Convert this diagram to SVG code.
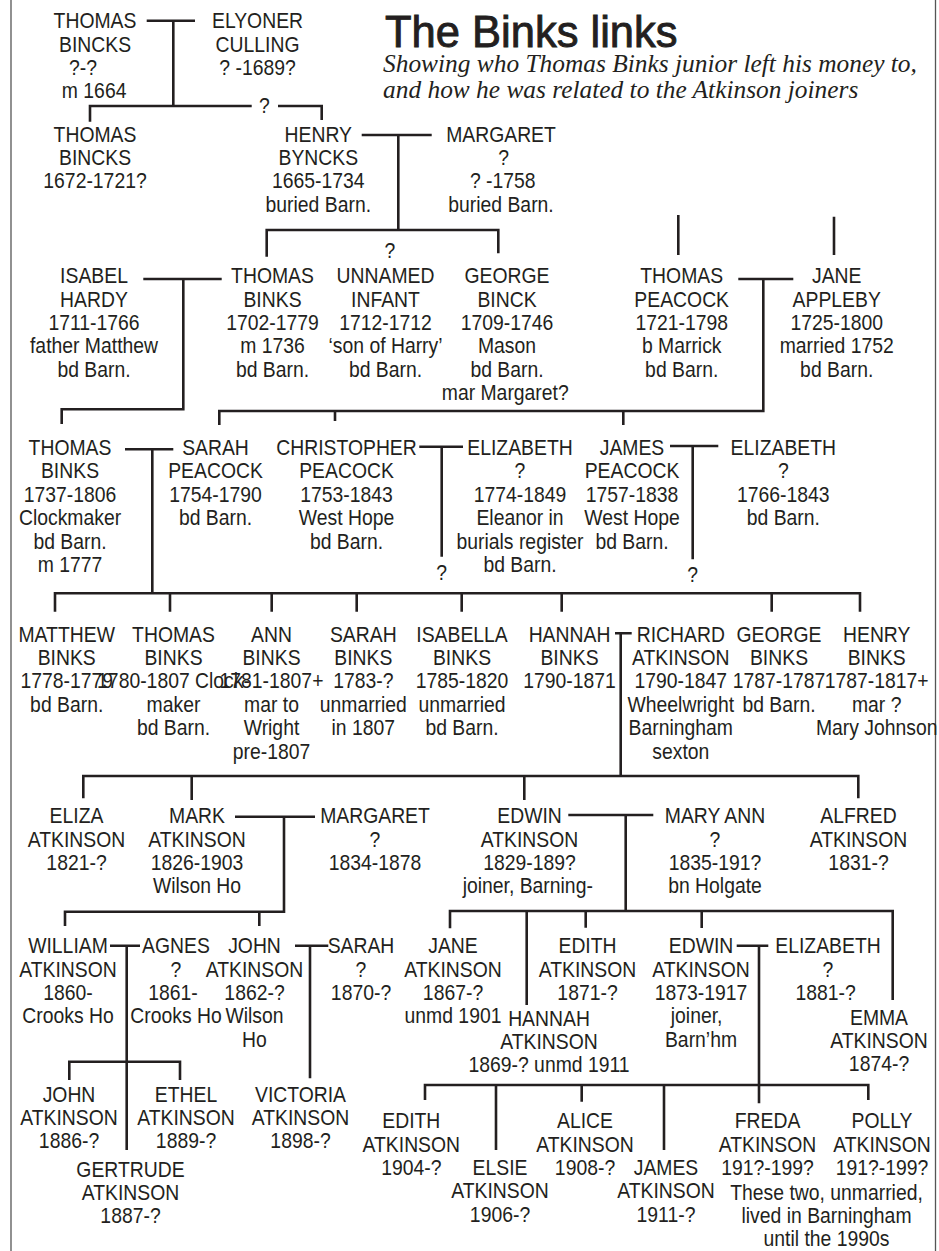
<svg xmlns="http://www.w3.org/2000/svg" width="939" height="1251" viewBox="0 0 939 1251">
<style>
.t{font-family:"Liberation Sans",Arial,sans-serif;font-size:22px;fill:#231f20;text-anchor:middle}
.c{fill:none;stroke:#231f20;stroke-width:2.6;stroke-linecap:butt;stroke-linejoin:miter}
.b{stroke:#555;stroke-width:1.3}
.title{font-family:"Liberation Sans",Arial,sans-serif;font-size:43.5px;fill:#231f20;stroke:#231f20;stroke-width:0.9}
.sub{font-family:"Liberation Serif","Times New Roman",serif;font-style:italic;font-size:25.4px;fill:#231f20}
</style>
<rect width="939" height="1251" fill="#fff"/>
<g id="frame"><line class="b" x1="11" y1="0" x2="11" y2="1251"/><line class="b" x1="935.5" y1="0" x2="935.5" y2="1251"/></g>
<g id="heading"><text class="title" x="385" y="46.7">The Binks links</text>
<text class="sub" x="383" y="72">Showing who Thomas Binks junior left his money to,</text>
<text class="sub" x="383" y="97.5">and how he was related to the Atkinson joiners</text></g>
<g id="connectors">
<path class="c" d="M146.7 20.7H195M173.3 20.7V106"/>
<path class="c" d="M90 121.7V106H251.7M278 106H321.7V120"/>
<path class="c" d="M361.7 135H431.7M398.3 135V230"/>
<path class="c" d="M266.7 256.7V230H498.3V253.3"/>
<path class="c" d="M143.3 279H221.7M183.3 279V409.3H61.7V424"/>
<path class="c" d="M678.3 215V255M834 216.7V255"/>
<path class="c" d="M738.3 279H793.3M763.3 279V411H219.3V425M335 411V421M623.3 411V425"/>
<path class="c" d="M125 449.3H173.3M152.3 449.3V593.3"/>
<path class="c" d="M55 611.7V593.3H860V611.7M170 593.3V611.7M271.7 593.3V611.7M356.7 593.3V611.7M461.7 593.3V611.7M561.7 593.3V611.7M771.7 593.3V611.7"/>
<path class="c" d="M419.3 446.7H463M441.7 446.7V556.7"/>
<path class="c" d="M670 446H718.3M692.7 446V559.3"/>
<path class="c" d="M615 633.3H631.7M620.7 633.3V776"/>
<path class="c" d="M83.3 798.3V776H858.3V798.3M191.7 776V800M524.3 776V800"/>
<path class="c" d="M235 816.7H315M284 816.7V911.7H65V926M259.3 911.7V926"/>
<path class="c" d="M110 945.7H140M126.7 945.7V1150M69.3 1080V1061.7H180V1080"/>
<path class="c" d="M295 945.7H328.3M310 945.7V1078.3"/>
<path class="c" d="M568.3 815H653.3M625.7 815V911M450 928.3V911H892.7V1000M526.7 911V1005M585.7 911V927.7M701.7 911V928"/>
<path class="c" d="M736.7 945.7H768.3M759 945.7V1103.3M425 1100V1085H868.3V1100M496 1085V1150M581.7 1085V1101.7M664 1085V1150"/>
<g transform="translate(264.5 113) scale(0.88 1)"><text class="t">?</text></g>
<g transform="translate(390 258) scale(0.88 1)"><text class="t">?</text></g>
<g transform="translate(441.7 580) scale(0.88 1)"><text class="t">?</text></g>
<g transform="translate(692.7 581.7) scale(0.88 1)"><text class="t">?</text></g>
</g>
<g id="n1" transform="translate(95 28.3) scale(0.88 1)"><text class="t"><tspan x="0" y="0">THOMAS</tspan><tspan x="0" y="23.4">BINCKS</tspan><tspan x="-13.6" y="46.8">?-?</tspan><tspan x="-1" y="70.2">m 1664</tspan></text></g>
<g id="n2" transform="translate(257.5 28.3) scale(0.88 1)"><text class="t"><tspan x="0" y="0">ELYONER</tspan><tspan x="0" y="23.4">CULLING</tspan><tspan x="0" y="46.8">? -1689?</tspan></text></g>
<g id="n3" transform="translate(95 141.7) scale(0.88 1)"><text class="t"><tspan x="0" y="0">THOMAS</tspan><tspan x="0" y="23.4">BINCKS</tspan><tspan x="0" y="46.8">1672-1721?</tspan></text></g>
<g id="n4" transform="translate(318.3 141.7) scale(0.88 1)"><text class="t"><tspan x="0" y="0">HENRY</tspan><tspan x="0" y="23.4">BYNCKS</tspan><tspan x="0" y="46.8">1665-1734</tspan><tspan x="0" y="70.2">buried Barn.</tspan></text></g>
<g id="n5" transform="translate(501 141.7) scale(0.88 1)"><text class="t"><tspan x="0" y="0">MARGARET</tspan><tspan x="3" y="23.4">?</tspan><tspan x="2" y="46.8">? -1758</tspan><tspan x="0" y="70.2">buried Barn.</tspan></text></g>
<g id="n6" transform="translate(94 283.3) scale(0.88 1)"><text class="t"><tspan x="0" y="0">ISABEL</tspan><tspan x="0" y="23.4">HARDY</tspan><tspan x="0" y="46.8">1711-1766</tspan><tspan x="0" y="70.2">father Matthew</tspan><tspan x="0" y="93.6">bd Barn.</tspan></text></g>
<g id="n7" transform="translate(272.5 283.3) scale(0.88 1)"><text class="t"><tspan x="0" y="0">THOMAS</tspan><tspan x="0" y="23.4">BINKS</tspan><tspan x="0" y="46.8">1702-1779</tspan><tspan x="0" y="70.2">m 1736</tspan><tspan x="0" y="93.6">bd Barn.</tspan></text></g>
<g id="n8" transform="translate(385.5 283.3) scale(0.88 1)"><text class="t"><tspan x="0" y="0">UNNAMED</tspan><tspan x="0" y="23.4">INFANT</tspan><tspan x="0" y="46.8">1712-1712</tspan><tspan x="0" y="70.2">‘son of Harry’</tspan><tspan x="0" y="93.6">bd Barn.</tspan></text></g>
<g id="n9" transform="translate(507 283.3) scale(0.88 1)"><text class="t"><tspan x="0" y="0">GEORGE</tspan><tspan x="0" y="23.4">BINCK</tspan><tspan x="0" y="46.8">1709-1746</tspan><tspan x="0" y="70.2">Mason</tspan><tspan x="0" y="93.6">bd Barn.</tspan><tspan x="-2" y="117">mar Margaret?</tspan></text></g>
<g id="n10" transform="translate(681.7 283.3) scale(0.88 1)"><text class="t"><tspan x="0" y="0">THOMAS</tspan><tspan x="0" y="23.4">PEACOCK</tspan><tspan x="0" y="46.8">1721-1798</tspan><tspan x="0" y="70.2">b Marrick</tspan><tspan x="0" y="93.6">bd Barn.</tspan></text></g>
<g id="n11" transform="translate(836.7 283.3) scale(0.88 1)"><text class="t"><tspan x="0" y="0">JANE</tspan><tspan x="0" y="23.4">APPLEBY</tspan><tspan x="0" y="46.8">1725-1800</tspan><tspan x="0" y="70.2">married 1752</tspan><tspan x="0" y="93.6">bd Barn.</tspan></text></g>
<g id="n12" transform="translate(70 455) scale(0.88 1)"><text class="t"><tspan x="0" y="0">THOMAS</tspan><tspan x="0" y="23.4">BINKS</tspan><tspan x="0" y="46.8">1737-1806</tspan><tspan x="0" y="70.2">Clockmaker</tspan><tspan x="0" y="93.6">bd Barn.</tspan><tspan x="0" y="117">m 1777</tspan></text></g>
<g id="n13" transform="translate(215.5 455) scale(0.88 1)"><text class="t"><tspan x="0" y="0">SARAH</tspan><tspan x="0" y="23.4">PEACOCK</tspan><tspan x="0" y="46.8">1754-1790</tspan><tspan x="0" y="70.2">bd Barn.</tspan></text></g>
<g id="n14" transform="translate(346.5 455) scale(0.88 1)"><text class="t"><tspan x="0" y="0">CHRISTOPHER</tspan><tspan x="0" y="23.4">PEACOCK</tspan><tspan x="0" y="46.8">1753-1843</tspan><tspan x="0" y="70.2">West Hope</tspan><tspan x="0" y="93.6">bd Barn.</tspan></text></g>
<g id="n15" transform="translate(520 455) scale(0.88 1)"><text class="t"><tspan x="0" y="0">ELIZABETH</tspan><tspan x="0" y="23.4">?</tspan><tspan x="0" y="46.8">1774-1849</tspan><tspan x="0" y="70.2">Eleanor in</tspan><tspan x="0" y="93.6">burials register</tspan><tspan x="0" y="117">bd Barn.</tspan></text></g>
<g id="n16" transform="translate(632 455) scale(0.88 1)"><text class="t"><tspan x="0" y="0">JAMES</tspan><tspan x="0" y="23.4">PEACOCK</tspan><tspan x="0" y="46.8">1757-1838</tspan><tspan x="0" y="70.2">West Hope</tspan><tspan x="0" y="93.6">bd Barn.</tspan></text></g>
<g id="n17" transform="translate(783.3 455) scale(0.88 1)"><text class="t"><tspan x="0" y="0">ELIZABETH</tspan><tspan x="0" y="23.4">?</tspan><tspan x="0" y="46.8">1766-1843</tspan><tspan x="0" y="70.2">bd Barn.</tspan></text></g>
<g id="n18" transform="translate(66.7 641.7) scale(0.88 1)"><text class="t"><tspan x="0" y="0">MATTHEW</tspan><tspan x="0" y="23.4">BINKS</tspan><tspan x="0" y="46.8">1778-1779</tspan><tspan x="0" y="70.2">bd Barn.</tspan></text></g>
<g id="n19" transform="translate(173.5 641.7) scale(0.88 1)"><text class="t"><tspan x="0" y="0">THOMAS</tspan><tspan x="0" y="23.4">BINKS</tspan><tspan x="0" y="46.8">1780-1807 Clock-</tspan><tspan x="0" y="70.2">maker</tspan><tspan x="0" y="93.6">bd Barn.</tspan></text></g>
<g id="n20" transform="translate(271.5 641.7) scale(0.88 1)"><text class="t"><tspan x="0" y="0">ANN</tspan><tspan x="0" y="23.4">BINKS</tspan><tspan x="0" y="46.8">1781-1807+</tspan><tspan x="0" y="70.2">mar to</tspan><tspan x="0" y="93.6">Wright</tspan><tspan x="0" y="117">pre-1807</tspan></text></g>
<g id="n21" transform="translate(363.3 641.7) scale(0.88 1)"><text class="t"><tspan x="0" y="0">SARAH</tspan><tspan x="0" y="23.4">BINKS</tspan><tspan x="0" y="46.8">1783-?</tspan><tspan x="0" y="70.2">unmarried</tspan><tspan x="0" y="93.6">in 1807</tspan></text></g>
<g id="n22" transform="translate(462 641.7) scale(0.88 1)"><text class="t"><tspan x="0" y="0">ISABELLA</tspan><tspan x="0" y="23.4">BINKS</tspan><tspan x="0" y="46.8">1785-1820</tspan><tspan x="0" y="70.2">unmarried</tspan><tspan x="0" y="93.6">bd Barn.</tspan></text></g>
<g id="n23" transform="translate(569.5 641.7) scale(0.88 1)"><text class="t"><tspan x="0" y="0">HANNAH</tspan><tspan x="0" y="23.4">BINKS</tspan><tspan x="0" y="46.8">1790-1871</tspan></text></g>
<g id="n24" transform="translate(680.8 641.7) scale(0.88 1)"><text class="t"><tspan x="0" y="0">RICHARD</tspan><tspan x="0" y="23.4">ATKINSON</tspan><tspan x="0" y="46.8">1790-1847</tspan><tspan x="0" y="70.2">Wheelwright</tspan><tspan x="0" y="93.6">Barningham</tspan><tspan x="0" y="117">sexton</tspan></text></g>
<g id="n25" transform="translate(779 641.7) scale(0.88 1)"><text class="t"><tspan x="0" y="0">GEORGE</tspan><tspan x="0" y="23.4">BINKS</tspan><tspan x="0" y="46.8">1787-1787</tspan><tspan x="0" y="70.2">bd Barn.</tspan></text></g>
<g id="n26" transform="translate(876.7 641.7) scale(0.88 1)"><text class="t"><tspan x="0" y="0">HENRY</tspan><tspan x="0" y="23.4">BINKS</tspan><tspan x="0" y="46.8">1787-1817+</tspan><tspan x="0" y="70.2">mar ?</tspan><tspan x="0" y="93.6">Mary Johnson</tspan></text></g>
<g id="n27" transform="translate(76.5 823.3) scale(0.88 1)"><text class="t"><tspan x="0" y="0">ELIZA</tspan><tspan x="0" y="23.4">ATKINSON</tspan><tspan x="0" y="46.8">1821-?</tspan></text></g>
<g id="n28" transform="translate(197 823.3) scale(0.88 1)"><text class="t"><tspan x="0" y="0">MARK</tspan><tspan x="0" y="23.4">ATKINSON</tspan><tspan x="0" y="46.8">1826-1903</tspan><tspan x="0" y="70.2">Wilson Ho</tspan></text></g>
<g id="n29" transform="translate(375 823.3) scale(0.88 1)"><text class="t"><tspan x="0" y="0">MARGARET</tspan><tspan x="0" y="23.4">?</tspan><tspan x="0" y="46.8">1834-1878</tspan></text></g>
<g id="n30" transform="translate(529.5 823.3) scale(0.88 1)"><text class="t"><tspan x="0" y="0">EDWIN</tspan><tspan x="0" y="23.4">ATKINSON</tspan><tspan x="0" y="46.8">1829-189?</tspan><tspan x="-2" y="70.2">joiner, Barning-</tspan></text></g>
<g id="n31" transform="translate(715 823.3) scale(0.88 1)"><text class="t"><tspan x="0" y="0">MARY ANN</tspan><tspan x="0" y="23.4">?</tspan><tspan x="0" y="46.8">1835-191?</tspan><tspan x="0" y="70.2">bn Holgate</tspan></text></g>
<g id="n32" transform="translate(858.5 823.3) scale(0.88 1)"><text class="t"><tspan x="0" y="0">ALFRED</tspan><tspan x="0" y="23.4">ATKINSON</tspan><tspan x="0" y="46.8">1831-?</tspan></text></g>
<g id="n33" transform="translate(68 953.3) scale(0.88 1)"><text class="t"><tspan x="0" y="0">WILLIAM</tspan><tspan x="0" y="23.4">ATKINSON</tspan><tspan x="0" y="46.8">1860-</tspan><tspan x="0" y="70.2">Crooks Ho</tspan></text></g>
<g id="n34" transform="translate(176 953.3) scale(0.88 1)"><text class="t"><tspan x="0" y="0">AGNES</tspan><tspan x="0" y="23.4">?</tspan><tspan x="-3.4" y="46.8">1861-</tspan><tspan x="0" y="70.2">Crooks Ho</tspan></text></g>
<g id="n35" transform="translate(254.5 953.3) scale(0.88 1)"><text class="t"><tspan x="0" y="0">JOHN</tspan><tspan x="0" y="23.4">ATKINSON</tspan><tspan x="0" y="46.8">1862-?</tspan><tspan x="0" y="70.2">Wilson</tspan><tspan x="0" y="93.6">Ho</tspan></text></g>
<g id="n36" transform="translate(361 953.3) scale(0.88 1)"><text class="t"><tspan x="0" y="0">SARAH</tspan><tspan x="0" y="23.4">?</tspan><tspan x="0" y="46.8">1870-?</tspan></text></g>
<g id="n37" transform="translate(453 953.3) scale(0.88 1)"><text class="t"><tspan x="0" y="0">JANE</tspan><tspan x="0" y="23.4">ATKINSON</tspan><tspan x="0" y="46.8">1867-?</tspan><tspan x="0" y="70.2">unmd 1901</tspan></text></g>
<g id="n38" transform="translate(587.5 953.3) scale(0.88 1)"><text class="t"><tspan x="0" y="0">EDITH</tspan><tspan x="0" y="23.4">ATKINSON</tspan><tspan x="0" y="46.8">1871-?</tspan></text></g>
<g id="n39" transform="translate(701 953.3) scale(0.88 1)"><text class="t"><tspan x="0" y="0">EDWIN</tspan><tspan x="0" y="23.4">ATKINSON</tspan><tspan x="0" y="46.8">1873-1917</tspan><tspan x="-5" y="70.2">joiner,</tspan><tspan x="0" y="93.6">Barn’hm</tspan></text></g>
<g id="n40" transform="translate(828 953.3) scale(0.88 1)"><text class="t"><tspan x="0" y="0">ELIZABETH</tspan><tspan x="0" y="23.4">?</tspan><tspan x="-2.8" y="46.8">1881-?</tspan></text></g>
<g id="n41" transform="translate(879 1024.5) scale(0.88 1)"><text class="t"><tspan x="0" y="0">EMMA</tspan><tspan x="0" y="23.4">ATKINSON</tspan><tspan x="0" y="46.8">1874-?</tspan></text></g>
<g id="n42" transform="translate(549 1025.5) scale(0.88 1)"><text class="t"><tspan x="0" y="0">HANNAH</tspan><tspan x="0" y="23.4">ATKINSON</tspan><tspan x="0" y="46.8">1869-? unmd 1911</tspan></text></g>
<g id="n43" transform="translate(69 1101.7) scale(0.88 1)"><text class="t"><tspan x="0" y="0">JOHN</tspan><tspan x="0" y="23.4">ATKINSON</tspan><tspan x="0" y="46.8">1886-?</tspan></text></g>
<g id="n44" transform="translate(186 1101.7) scale(0.88 1)"><text class="t"><tspan x="0" y="0">ETHEL</tspan><tspan x="0" y="23.4">ATKINSON</tspan><tspan x="0" y="46.8">1889-?</tspan></text></g>
<g id="n45" transform="translate(130.5 1176.7) scale(0.88 1)"><text class="t"><tspan x="0" y="0">GERTRUDE</tspan><tspan x="0" y="23.4">ATKINSON</tspan><tspan x="0" y="46.8">1887-?</tspan></text></g>
<g id="n46" transform="translate(300.5 1101.7) scale(0.88 1)"><text class="t"><tspan x="0" y="0">VICTORIA</tspan><tspan x="0" y="23.4">ATKINSON</tspan><tspan x="0" y="46.8">1898-?</tspan></text></g>
<g id="n47" transform="translate(411.3 1128.3) scale(0.88 1)"><text class="t"><tspan x="0" y="0">EDITH</tspan><tspan x="0" y="23.4">ATKINSON</tspan><tspan x="0" y="46.8">1904-?</tspan></text></g>
<g id="n48" transform="translate(500 1175) scale(0.88 1)"><text class="t"><tspan x="0" y="0">ELSIE</tspan><tspan x="0" y="23.4">ATKINSON</tspan><tspan x="0" y="46.8">1906-?</tspan></text></g>
<g id="n49" transform="translate(585 1128.3) scale(0.88 1)"><text class="t"><tspan x="0" y="0">ALICE</tspan><tspan x="0" y="23.4">ATKINSON</tspan><tspan x="0" y="46.8">1908-?</tspan></text></g>
<g id="n50" transform="translate(666 1175) scale(0.88 1)"><text class="t"><tspan x="0" y="0">JAMES</tspan><tspan x="0" y="23.4">ATKINSON</tspan><tspan x="0" y="46.8">1911-?</tspan></text></g>
<g id="n51" transform="translate(767.5 1128.3) scale(0.88 1)"><text class="t"><tspan x="0" y="0">FREDA</tspan><tspan x="0" y="23.4">ATKINSON</tspan><tspan x="0" y="46.8">191?-199?</tspan></text></g>
<g id="n52" transform="translate(882 1128.3) scale(0.88 1)"><text class="t"><tspan x="0" y="0">POLLY</tspan><tspan x="0" y="23.4">ATKINSON</tspan><tspan x="0" y="46.8">191?-199?</tspan></text></g>
<g id="note" transform="translate(826.5 1199.5) scale(0.88 1)"><text class="t"><tspan x="0" y="0">These two, unmarried,</tspan><tspan x="0" y="23.4">lived in Barningham</tspan><tspan x="0" y="46.8">until the 1990s</tspan></text></g>
</svg>
